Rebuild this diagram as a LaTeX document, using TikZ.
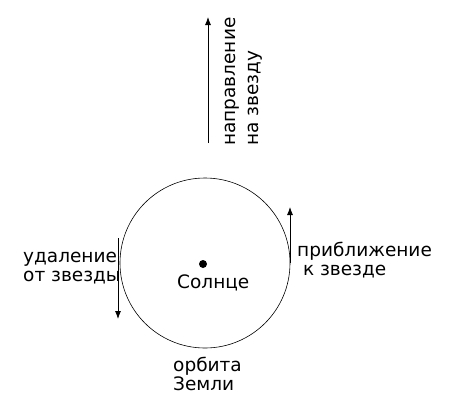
\documentclass[tikz,border=0pt]{standalone}
\usepackage{fontspec}
\setmainfont{DejaVu Sans}
\usetikzlibrary{positioning,arrows.meta}

\begin{document}
\begin{tikzpicture}[>={Latex[length=8pt,width=6pt]},x=1pt,y=-1pt,
    lbl/.style={font=\fontsize{18.5}{19}\selectfont,align=left,inner sep=0pt},
    line/.style={line width=0.8pt}]
    \useasboundingbox (0,0) rectangle (450,416);
    % orbit and sun
    \node[circle,draw,line width=0.6pt,minimum size=170pt,inner sep=0pt] (orbit) at (205,263) {};
    \node[circle,fill,minimum size=8pt,inner sep=0pt] (sun) at (203,264) {};
    \node[lbl,anchor=base west] (sunlbl) at (177,288) {Солнце};
    \node[lbl,anchor=base west] (orblbl) at (173,390) {орбита\\Земли};
    % direction to the star
    \coordinate (dirA) at (208,143);
    \coordinate (dirB) at (208,17);
    \draw[line,->] (dirA)--(dirB);
    \node[lbl,font=\fontsize{18.5}{23}\selectfont,rotate=90,anchor=base west]
        (dirlbl) at (258,146) {направление\\на звезду};
    % receding
    \coordinate (recA) at (118,238);
    \coordinate (recB) at (118,319);
    \draw[line,->] (recA)--(recB);
    \node[lbl,anchor=base west] (reclbl) at (23,281) {удаление\\от звезды};
    % approaching
    \coordinate (appA) at (290,263);
    \coordinate (appB) at (290,207);
    \draw[line,->] (appA)--(appB);
    \node[lbl,anchor=base west] (applbl) at (297,275) {приближение\\\ к звезде};
\end{tikzpicture}
\end{document}
